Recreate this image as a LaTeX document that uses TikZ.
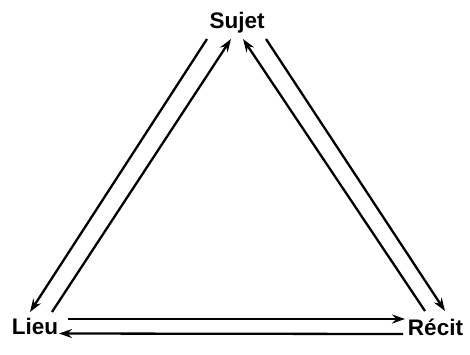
\documentclass[tikz,border=0pt]{standalone}
\usepackage{fontspec}
\setmainfont{Liberation Sans}
\usetikzlibrary{arrows.meta, positioning}
\tikzset{every picture/.append style={thick}}
\tikzset{
  place/.style={font=\fontsize{22.5}{26}\selectfont\bfseries, inner sep=0pt, anchor=base},
  link/.style={-{Stealth[length=13pt,width=9pt]}, line width=2.3pt},
}

\begin{document}
\begin{tikzpicture}[x=1pt, y=-1pt]
    \useasboundingbox (0,0) rectangle (470,354);
    % Places
    \node[place] (sujet) at (237,28) {Sujet};
    \node[place] (lieu) at (35,334) {Lieu};
    \node[place] (recit) at (435.5,335.5) {Récit};

    % Sujet and Lieu
    \draw[link] ([shift={(-30,11)}]sujet.base) -- ([shift={(-5,-22)}]lieu.base);
    \draw[link] ([shift={(17,-22)}]lieu.base) -- ([shift={(-6,11)}]sujet.base);

    % Sujet and Recit
    \draw[link] ([shift={(-10.5,-24.5)}]recit.base) -- ([shift={(6,11)}]sujet.base);
    \draw[link] ([shift={(29,11)}]sujet.base) -- ([shift={(9.5,-24.5)}]recit.base);

    % Lieu and Recit
    \draw[link] ([shift={(33,-15)}]lieu.base) -- ([shift={(-30.5,-16.5)}]recit.base);
    \draw[link] ([shift={(-32.5,-1.5)}]recit.base) -- ([shift={(24,-0.5)}]lieu.base);
\end{tikzpicture}
\end{document}
